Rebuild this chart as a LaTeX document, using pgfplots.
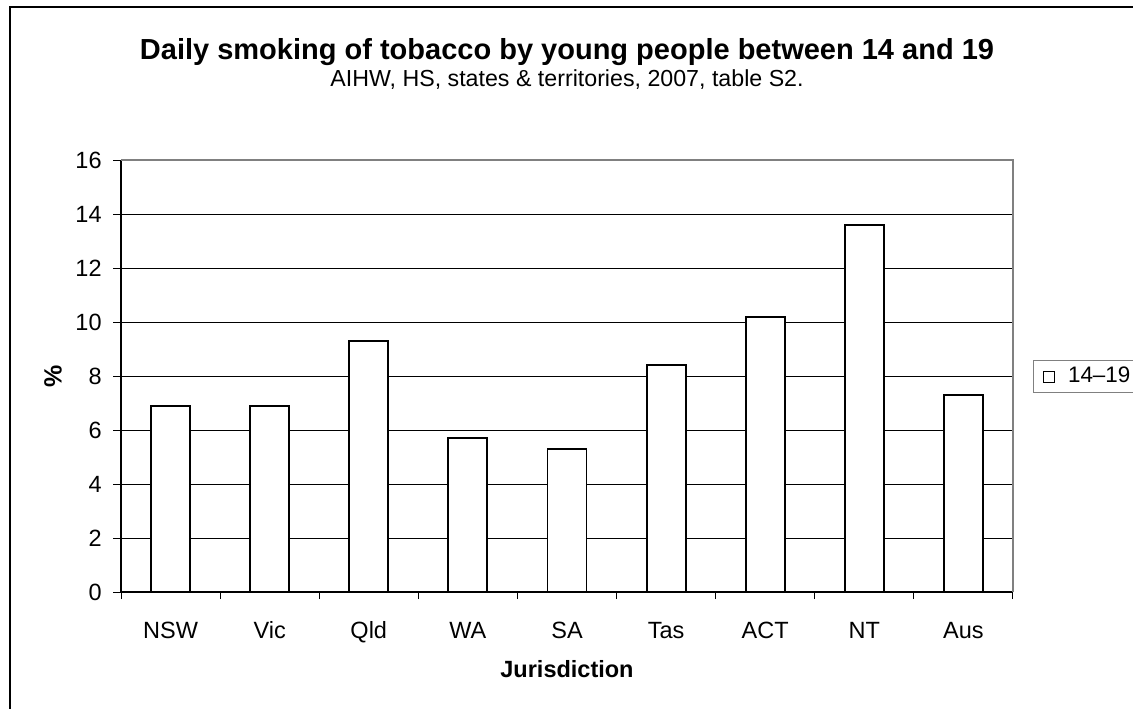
\documentclass[border=0pt]{standalone}
\usepackage{fontspec}
\setmainfont{Liberation Sans}
\usepackage{pgfplots}
\pgfplotsset{compat=1.18}

\begin{document}
\begin{tikzpicture}
% page frame: 1133 x 708 px at 0.5pt per px
\useasboundingbox (0pt,0pt) rectangle (566.5pt,354pt);
\draw[black, line width=0.8pt] (5pt,-2pt) -- (5pt,350.5pt) -- (570pt,350.5pt);

\begin{axis}[
  at={(60.5pt,58pt)}, anchor=south west,
  scale only axis, width=446pt, height=216pt,
  font=\fontsize{11.75}{14}\selectfont,
  /pgf/number format/assume math mode=true,
  ybar, bar width=19.5pt, bar shift=0pt,
  xmin=-0.5, xmax=8.5, ymin=0, ymax=16,
  axis lines=left, axis line style={-, black, line width=0.7pt},
  xtick={0,...,8},
  xticklabels={NSW,Vic,Qld,WA,SA,Tas,ACT,NT,Aus},
  minor xtick={-0.5,0.5,...,8.5},
  ytick={0,2,...,16},
  tick align=outside, major tick length=4pt, minor tick length=3.5pt,
  tick style={black, line width=0.5pt},
  major x tick style={draw=none},
  xticklabel style={anchor=base, yshift=-19pt},
  yticklabel style={anchor=east, inner sep=0pt, xshift=-5.5pt},
  ymajorgrids, grid style={black, line width=0.5pt},
  xlabel={Jurisdiction}, ylabel={\%},
  every axis x label/.style={at={(axis description cs:0.5,0)}, anchor=base,
    yshift=-42.5pt, font=\fontsize{11.75}{14}\selectfont\bfseries},
  every axis y label/.style={at={(axis description cs:0,0.5)}, anchor=center,
    xshift=-34pt, rotate=90, font=\fontsize{12.5}{14}\selectfont\bfseries},
  title={Daily smoking of tobacco by young people between 14 and 19},
  title style={at={(axis description cs:0.5,1)}, anchor=base, yshift=44.5pt,
    font=\fontsize{14.5}{17}\selectfont\bfseries},
  legend style={at={(axis description cs:1.0224,0.4988)}, anchor=west,
    draw=gray, line width=0.6pt, inner xsep=4.5pt, inner ysep=1.5pt,
    font=\fontsize{11.2}{13}\selectfont},
  legend image code/.code={\draw[black, line width=0.5pt, fill=white]
    (0pt,-2.75pt) rectangle (5.5pt,2.75pt);
    \path[draw=none, fill=none] (0pt,0pt) -- (10.5pt,0pt);},
  clip=false,
]
\addplot[draw=black, fill=white, line width=0.9pt] coordinates {
  (0,6.9) (1,6.9) (2,9.3) (3,5.7) (4,5.3) (5,8.4) (6,10.2) (7,13.6) (8,7.3)
};
\addlegendentry{14\textendash19}
% plot-area frame on the top and right sides
\draw[gray, line width=0.6pt] (rel axis cs:0,1) -- (rel axis cs:1,1) -- (rel axis cs:1,0);
\node[anchor=base, font=\fontsize{11.6}{13}\selectfont]
  at ([yshift=37pt]rel axis cs:0.5,1) {AIHW, HS, states \& territories, 2007, table S2.};
\end{axis}
\end{tikzpicture}
\end{document}
